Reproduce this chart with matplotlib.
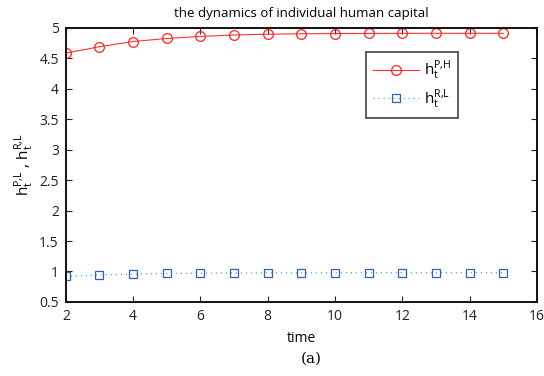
import numpy as np
import matplotlib.pyplot as plt

# data
time = [2, 3, 4, 5, 6, 7, 8, 9, 10, 11, 12, 13, 14, 15]
h_PH = [4.585, 4.69, 4.775, 4.825, 4.86, 4.882, 4.895, 4.902, 4.906, 4.908, 4.909, 4.91, 4.91, 4.91]
h_RL = [0.918, 0.942, 0.958, 0.967, 0.972, 0.975, 0.977, 0.978, 0.979, 0.98, 0.98, 0.98, 0.98, 0.98]
xticks = [2, 4, 6, 8, 10, 12, 14, 16]
yticks = [0.5, 1, 1.5, 2, 2.5, 3, 3.5, 4, 4.5, 5]

plt.rcParams['font.family'] = ['Open Sans', 'DejaVu Sans']
plt.rcParams['mathtext.fontset'] = 'custom'
plt.rcParams['mathtext.rm'] = 'Open Sans'
plt.rcParams['mathtext.it'] = 'Open Sans'

fig = plt.figure(figsize=(5.44, 3.76), dpi=100)
ax = fig.add_axes([0.121, 0.197, 0.866, 0.729])

ax.plot(time, h_PH, color='#ff3333', lw=0.8, marker='o', ms=7,
        mfc='none', mec='#ff2222', mew=0.9, label=r'$\mathrm{h}_t^{\mathrm{P{,}H}}$')
ax.plot(time, h_RL, color='#6a9ad8', lw=0.9, ls=(0, (1, 3)), marker='s', ms=5.5,
        mfc='none', mec='#2f62b0', mew=0.9, label=r'$\mathrm{h}_t^{\mathrm{R{,}L}}$')

ax.set_xlim(2, 16)
ax.set_ylim(0.5, 5)
ax.set_xticks(xticks)
ax.set_xticklabels([str(t) for t in xticks])
ax.set_yticks(yticks)
ax.set_yticklabels(['0.5', '1', '1.5', '2', '2.5', '3', '3.5', '4', '4.5', '5'])
ax.tick_params(direction='in', top=True, right=True, length=4, width=0.8,
               labelsize=10, colors='#222222', pad=5)
for s in ax.spines.values():
    s.set_linewidth(1.4)
    s.set_color('#111111')

ax.set_title('the dynamics of individual human capital', fontsize=9.5, pad=8)
ax.set_xlabel('time', fontsize=10, labelpad=5)
ax.set_ylabel(r'$\mathrm{h}_t^{\mathrm{P{,}L}}$ , $\mathrm{h}_t^{\mathrm{R{,}L}}$', fontsize=11, labelpad=2)

leg = ax.legend(loc='upper left', bbox_to_anchor=(0.638, 0.912), borderaxespad=0,
                fontsize=11, frameon=True, fancybox=False, handlelength=3.0,
                handletextpad=0.3, borderpad=0.45, labelspacing=0.35)
leg.get_frame().set_edgecolor('#111111')
leg.get_frame().set_linewidth(1.2)

fig.text(0.572, 0.035, '(a)', family='DejaVu Serif', fontsize=11, ha='center')

fig.savefig('out.png', dpi=100)
